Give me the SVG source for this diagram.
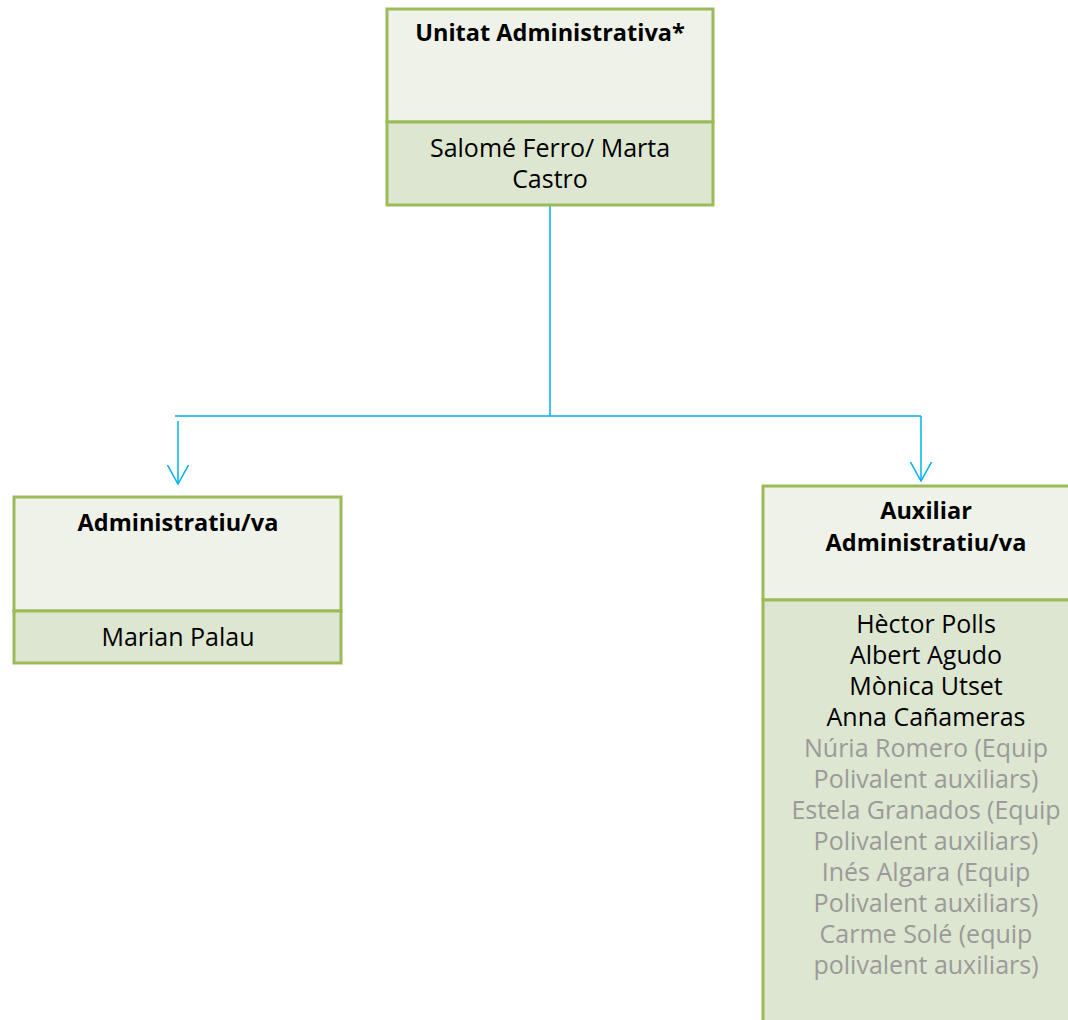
<svg xmlns="http://www.w3.org/2000/svg" width="1068" height="1020" viewBox="0 0 1068 1020">
<defs>
<style>
.hd{fill:#eff2e8;stroke:#9bbb59;stroke-width:3}
.bd{fill:#dde6d0;stroke:#9bbb59;stroke-width:3}
.t{font-family:"Open Sans","Noto Sans",sans-serif;font-size:25px;fill:#000;text-anchor:middle}
.b{font-weight:bold;font-size:23.5px}
.g{fill:#9a9a9a}
.c{fill:none;stroke:#00b0f0;stroke-width:1.5}
</style>
<marker id="ar" markerWidth="20" markerHeight="22" refX="19" refY="11" orient="auto" markerUnits="userSpaceOnUse" viewBox="0 0 20 22">
<path d="M0,0.5 L19,11 L0,21.5" fill="none" stroke="#00b0f0" stroke-width="1.5"/>
</marker>
</defs>
<rect width="1068" height="1020" fill="#fff"/>
<g id="connectors">
<path class="c" d="M550,205 V416 M175,416 H921"/>
<path class="c" d="M178,421 V484" marker-end="url(#ar)"/>
<path class="c" d="M921,416 V481" marker-end="url(#ar)"/>
</g>
<g id="unitat">
<rect class="hd" x="387" y="9" width="326" height="113"/>
<rect class="bd" x="387" y="122" width="326" height="83"/>
<text class="t b" x="550" y="41">Unitat Administrativa*</text>
<text class="t" x="550" y="157">Salomé Ferro/ Marta</text>
<text class="t" x="550" y="188">Castro</text>
</g>
<g id="administratiu">
<rect class="hd" x="14" y="497" width="327" height="114"/>
<rect class="bd" x="14" y="611" width="327" height="52"/>
<text class="t b" x="178" y="531">Administratiu/va</text>
<text class="t" x="178" y="646">Marian Palau</text>
</g>
<g id="auxiliar">
<rect class="hd" x="763" y="486" width="330" height="114"/>
<rect class="bd" x="763" y="600" width="330" height="440"/>
<text class="t b" x="926" y="519">Auxiliar</text>
<text class="t b" x="926" y="551">Administratiu/va</text>
<text class="t" x="926" y="633">Hèctor Polls</text>
<text class="t" x="926" y="664">Albert Agudo</text>
<text class="t" x="926" y="695">Mònica Utset</text>
<text class="t" x="926" y="726">Anna Cañameras</text>
<text class="t g" x="926" y="757">Núria Romero (Equip</text>
<text class="t g" x="926" y="788">Polivalent auxiliars)</text>
<text class="t g" x="926" y="819">Estela Granados (Equip</text>
<text class="t g" x="926" y="850">Polivalent auxiliars)</text>
<text class="t g" x="926" y="881">Inés Algara (Equip</text>
<text class="t g" x="926" y="912">Polivalent auxiliars)</text>
<text class="t g" x="926" y="943">Carme Solé (equip</text>
<text class="t g" x="926" y="974">polivalent auxiliars)</text>
</g>
</svg>
